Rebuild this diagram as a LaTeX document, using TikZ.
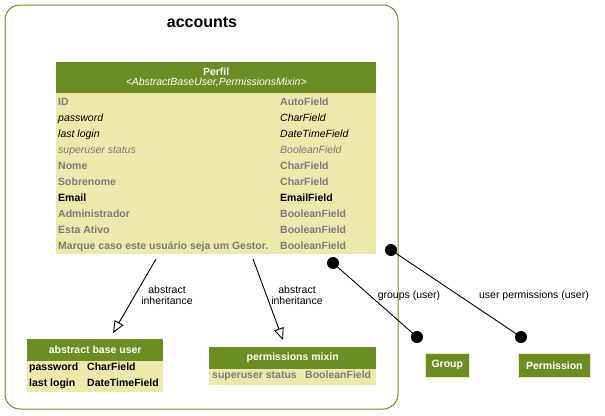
\documentclass[tikz,border=0pt]{standalone}
\usepackage{fontspec}
\setmainfont{Liberation Sans}
\usetikzlibrary{arrows.meta}
\definecolor{hdrgreen}{HTML}{6B8E23}
\definecolor{rowfill}{HTML}{EEE8AA}
\definecolor{fgray}{HTML}{7B7B7B}
\tikzset{
  sm/.style={font=\fontsize{10.5}{10.5}\selectfont},
  tbody/.style={fill=rowfill, draw=none, inner sep=0pt, anchor=north west},
  thead/.style={fill=hdrgreen, text=white, inner sep=0pt, anchor=north west, align=center, font=\fontsize{10.5}{10.5}\selectfont\bfseries},
  fld/.style={sm, inner sep=0pt, anchor=base west},
  gb/.style={fld, text=fgray, font=\fontsize{10.5}{10.5}\selectfont\bfseries},
  gi/.style={fld, text=fgray, font=\fontsize{10.5}{10.5}\selectfont\itshape},
  bi/.style={fld, text=black, font=\fontsize{10.5}{10.5}\selectfont\itshape},
  bb/.style={fld, text=black, font=\fontsize{10.5}{10.5}\selectfont\bfseries},
  elabel/.style={sm, align=center, inner sep=0pt},
  inh/.style={draw=black, line width=0.9pt, -{Triangle[open, length=12pt, width=10pt, line width=0.9pt]}},
  rel/.style={draw=black, line width=0.9pt},
  dot/.style={circle, fill=black, inner sep=0pt, minimum size=12pt},
}
\begin{document}
\begin{tikzpicture}[x=1pt, y=-1pt]
\useasboundingbox (0,0) rectangle (605,415);
% cluster
\draw[hdrgreen, line width=1pt, rounded corners=15pt] (5,5) rectangle (398,409);
\node[font=\fontsize{16}{16}\selectfont\bfseries] (title) at (202,22) {accounts};

% Perfil
\node[tbody, minimum width=320pt, minimum height=192pt] (perfil) at (56,62) {};
\node[thead, minimum width=320pt, minimum height=31pt] (perfilhead) at (56,62)
  {Perfil\\[-0.5pt]{\mdseries\itshape <AbstractBaseUser,PermissionsMixin>}};
\node[gb] (f1) at (58,105) {ID};            \node[gb] (t1) at (280,105) {AutoField};
\node[bi] (f2) at (58,121) {password};      \node[bi] (t2) at (280,121) {CharField};
\node[bi] (f3) at (58,137) {last login};    \node[bi] (t3) at (280,137) {DateTimeField};
\node[gi] (f4) at (58,153) {superuser status}; \node[gi] (t4) at (280,153) {BooleanField};
\node[gb] (f5) at (58,169) {Nome};          \node[gb] (t5) at (280,169) {CharField};
\node[gb] (f6) at (58,185) {Sobrenome};     \node[gb] (t6) at (280,185) {CharField};
\node[bb] (f7) at (58,201) {Email};         \node[bb] (t7) at (280,201) {EmailField};
\node[gb] (f8) at (58,217) {Administrador}; \node[gb] (t8) at (280,217) {BooleanField};
\node[gb] (f9) at (58,233) {Esta Ativo};    \node[gb] (t9) at (280,233) {BooleanField};
\node[gb] (f10) at (58,249) {Marque caso este usuário seja um Gestor.}; \node[gb] (t10) at (280,249) {BooleanField};

% abstract base user
\node[tbody, minimum width=136pt, minimum height=53pt] (abu) at (27,339) {};
\node[thead, minimum width=136pt, minimum height=22pt] (abuhead) at (27,339) {abstract base user};
\node[bb] (a1) at (29,370) {password};   \node[bb] (a1t) at (87,370) {CharField};
\node[bb] (a2) at (29,386) {last login}; \node[bb] (a2t) at (87,386) {DateTimeField};

% permissions mixin
\node[tbody, minimum width=167pt, minimum height=38pt] (pm) at (209,347) {};
\node[thead, minimum width=167pt, minimum height=22pt] (pmhead) at (209,347) {permissions mixin};
\node[gb] (p1) at (212,378) {superuser status}; \node[gb] (p1t) at (305,378) {BooleanField};

% Group / Permission
\node[thead, draw=rowfill, line width=0.6pt, minimum width=44pt, minimum height=24pt] (group) at (425,353) {Group};
\node[thead, draw=rowfill, line width=0.6pt, minimum width=72pt, minimum height=24pt] (perm) at (518,353) {Permission};

% inheritance edges
\coordinate (s1) at (156,259);
\coordinate (e1) at (113,333);
\coordinate (s2) at (253,259);
\coordinate (e2) at (283,340);
\draw[inh] (s1) -- (e1);
\draw[inh] (s2) -- (e2);
\node[elabel] (l1) at (167,295) {abstract\\inheritance};
\node[elabel] (l2) at (297,295) {abstract\\inheritance};

% relation edges
\node[dot] (gd1) at (333,263) {};
\node[dot] (gd2) at (417,337) {};
\node[dot] (pd1) at (391,250) {};
\node[dot] (pd2) at (521,337) {};
\draw[rel] (gd1.center) -- (gd2.center);
\draw[rel] (pd1.center) -- (pd2.center);
\node[elabel] (l3) at (409,296) {groups (user)};
\node[elabel] (l4) at (534,296) {user permissions (user)};
\end{tikzpicture}
\end{document}
